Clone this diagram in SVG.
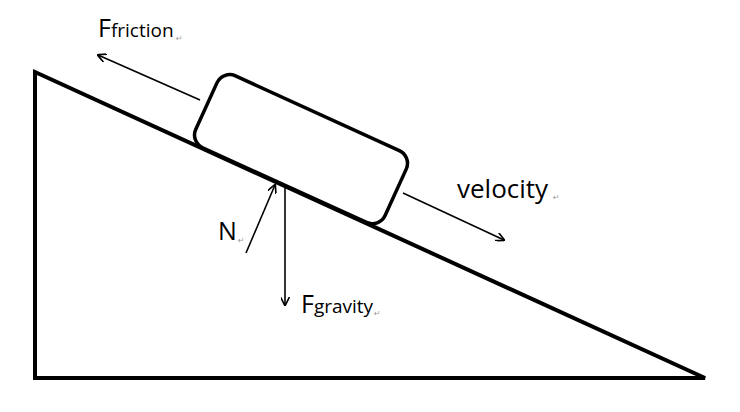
<svg xmlns="http://www.w3.org/2000/svg" width="740" height="412" viewBox="0 0 740 412">
<style>
.l{stroke:#000;stroke-width:1.6;fill:none}
.t{font-family:"Open Sans","DejaVu Sans",sans-serif;fill:#000}
.r{font-family:"DejaVu Sans",sans-serif;fill:#999;font-size:8px}
</style>
<defs><marker id="a" viewBox="0 0 10 10" refX="9" refY="5" markerWidth="9" markerHeight="9" markerUnits="userSpaceOnUse" orient="auto"><path d="M0,0 L10,5 L0,10" fill="none" stroke="#000" stroke-width="1.8"/></marker></defs>
<rect width="740" height="412" fill="#fff"/>
<g id="incline"><path d="M35,72 L705,378 L35,378 Z" fill="none" stroke="#000" stroke-width="4" stroke-linejoin="miter"/></g>
<g id="block"><rect x="190" y="63" width="208" height="79" rx="14" transform="rotate(24.5 190 142)" fill="#fff" stroke="#000" stroke-width="3.5"/></g>
<g id="connectors">
<line class="l" x1="200" y1="100" x2="98" y2="55" marker-end="url(#a)"/>
<line class="l" x1="403" y1="193" x2="504" y2="240" marker-end="url(#a)"/>
<line class="l" x1="246" y1="253" x2="275" y2="185" marker-end="url(#a)"/>
<line class="l" x1="285" y1="188" x2="285" y2="305" marker-end="url(#a)"/>
</g>
<g id="labels">
<text class="t" x="98" y="37" font-size="25">F<tspan font-size="19">friction</tspan></text><text class="r" x="176" y="41">↵</text>
<text class="t" x="457" y="198" font-size="26">velocity</text><text class="r" x="553" y="200">↵</text>
<text class="t" x="218" y="240" font-size="25">N</text><text class="r" x="238" y="243">↵</text>
<text class="t" x="301" y="313" font-size="25">F<tspan font-size="19">gravity</tspan></text><text class="r" x="374" y="316">↵</text>
</g>
</svg>
